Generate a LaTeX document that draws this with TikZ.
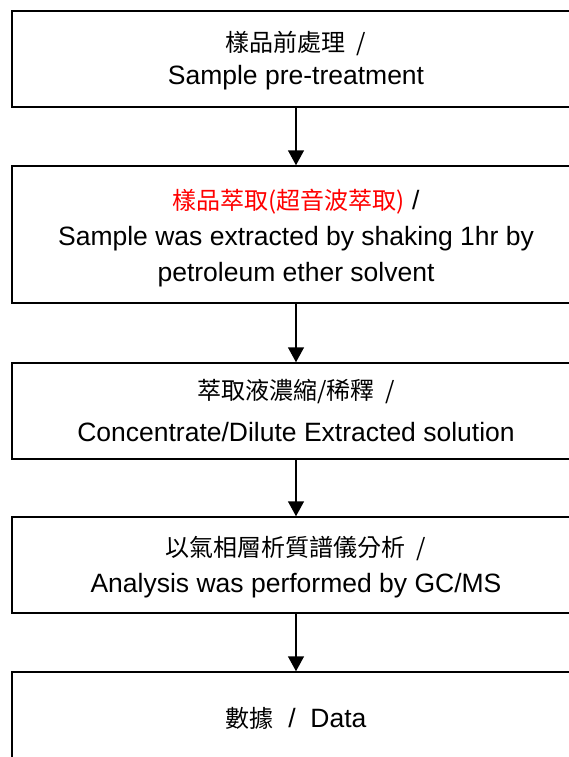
\documentclass[tikz,border=0pt]{standalone}
\usepackage{fontspec}
\setmainfont{Liberation Sans}
\newfontfamily\cjk{Noto Sans CJK TC}
\usetikzlibrary{arrows.meta}
\newcommand{\zh}{\cjk\fontsize{24}{36}\selectfont}
\begin{document}
\begin{tikzpicture}[x=1pt,y=1pt,
  stepbox/.style={draw=black, line width=1.5pt, fill=white, minimum width=568pt, inner sep=0pt},
  txt/.style={inner sep=0pt, align=center, font=\fontsize{26.5}{36}\selectfont},
  flow/.style={line width=1.5pt, -{Triangle[width=16pt,length=15pt]}}]
\useasboundingbox (0,0) rectangle (569,-757);
\clip (0,0) rectangle (569,-757);
\fill[white] (0,0) rectangle (569,-757);
\node[stepbox, minimum height=96pt] (b1) at (296,-59) {};
\node[stepbox, minimum height=137pt] (b2) at (296,-234.5) {};
\node[stepbox, minimum height=96pt] (b3) at (296,-411) {};
\node[stepbox, minimum height=96pt] (b4) at (296,-565) {};
\node[stepbox, minimum height=96pt] (b5) at (296,-720) {};
\node[txt] (t1) at (296,-60.5)
  {{\zh 樣品前處理\ \ /}\\[-3pt]Sample pre-treatment};
\node[txt] (t2) at (296,-238.5)
  {{\zh\color{red}樣品萃取(超音波萃取)}\ /\\Sample was extracted by shaking 1hr by\\petroleum ether solvent};
\node[txt] (t3) at (296,-410)
  {{\zh 萃取液濃縮/稀釋\ \ /}\\[6pt]Concentrate/Dilute Extracted solution};
\node[txt] (t4) at (296,-567.5)
  {{\zh 以氣相層析質譜儀分析\ \ /}\\Analysis was performed by GC/MS};
\node[txt] (t5) at (296,-718)
  {{\zh 數據}\ \ /\ \ Data};
\draw[flow] (b1.south) -- (b2.north);
\draw[flow] (b2.south) -- (b3.north);
\draw[flow] (b3.south) -- (b4.north);
\draw[flow] (b4.south) -- (b5.north);
\end{tikzpicture}
\end{document}
